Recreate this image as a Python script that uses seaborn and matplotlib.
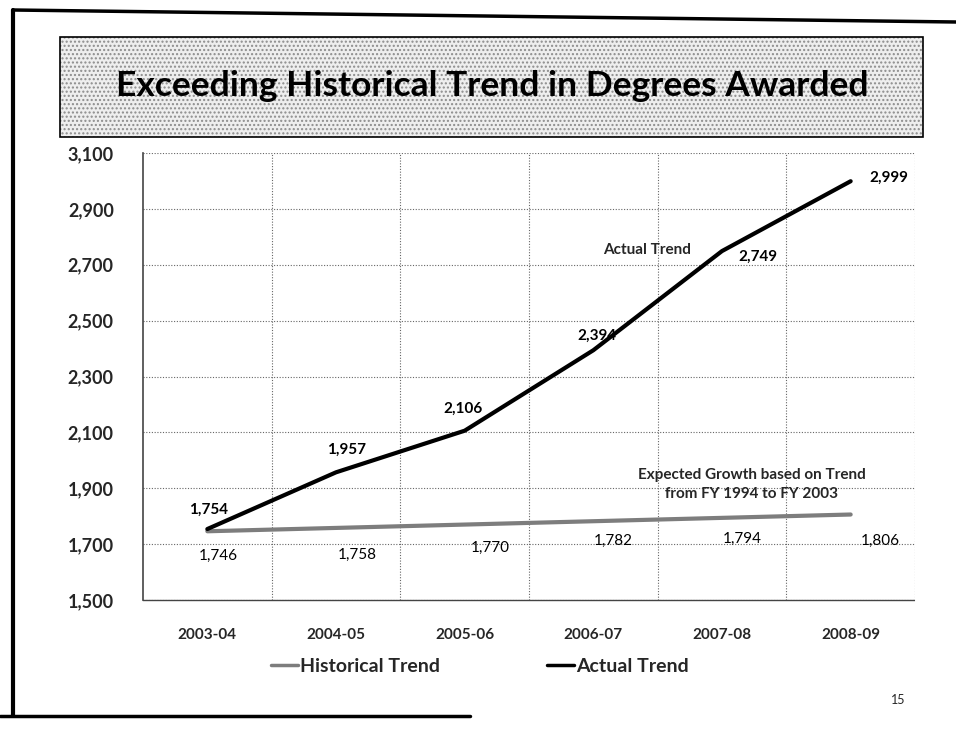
import matplotlib
matplotlib.use("Agg")
import matplotlib.pyplot as plt
import seaborn as sns
import pandas as pd
import numpy as np
from matplotlib.patches import Rectangle
from matplotlib.lines import Line2D

years = ["2003-04", "2004-05", "2005-06", "2006-07", "2007-08", "2008-09"]
historical = [1746, 1758, 1770, 1782, 1794, 1806]
actual = [1754, 1957, 2106, 2394, 2749, 2999]
yticks = [1500, 1700, 1900, 2100, 2300, 2500, 2700, 2900, 3100]

sns.set_theme(style="white")
plt.rcParams['font.family'] = ['Lato', 'DejaVu Sans']

W, H = 956, 731
fig = plt.figure(figsize=(W / 100, H / 100), dpi=100)
fig.patch.set_facecolor("white")

def fx(x):
    return x / W

def fy(y):
    return 1 - y / H

# slide frame
fig.add_artist(Line2D([fx(13), fx(13)], [fy(10), fy(716)], color="black", lw=3))
fig.add_artist(Line2D([fx(13), fx(956)], [fy(10), fy(22)], color="black", lw=2.5))
fig.add_artist(Line2D([fx(0), fx(470)], [fy(716), fy(716)], color="black", lw=2.5))

# title box (stippled fill + black border)
bx, by, bw, bh = fx(60), fy(137), fx(923) - fx(60), fy(37) - fy(137)
fig.add_artist(Rectangle((bx, by), bw, bh, transform=fig.transFigure,
                         facecolor="#eeeeee", edgecolor="#8c8c8c", lw=0,
                         hatch="...."))
fig.add_artist(Rectangle((bx, by), bw, bh, transform=fig.transFigure,
                         facecolor="none", edgecolor="black", lw=1.2))
fig.text(fx(492), fy(86), "Exceeding Historical Trend in Degrees Awarded",
         ha="center", va="center", fontsize=25.5, fontweight="bold", color="black")

# plot axes
x0, x1, yt, yb = 143, 915, 153, 600
ax = fig.add_axes([fx(x0), fy(yb), fx(x1) - fx(x0), fy(yt) - fy(yb)])

df = pd.DataFrame({"year": years * 2,
                   "value": historical + actual,
                   "series": ["Historical Trend"] * 6 + ["Actual Trend"] * 6})
df["pos"] = list(range(6)) * 2

sns.lineplot(data=df, x="pos", y="value", hue="series",
             palette={"Historical Trend": "#7d7d7d", "Actual Trend": "black"},
             linewidth=3.0, ax=ax, legend=False)

ax.set_xlim(-0.5, 5.5)
ax.set_ylim(1500, 3100)
ax.set_yticks(yticks)
ax.set_yticklabels([f"{v:,}" for v in yticks], fontsize=13, fontweight="bold")
ax.set_xticks(range(6))
ax.set_xticklabels(years, fontsize=11, fontweight="bold")
ax.set_xticks(np.arange(-0.5, 6, 1), minor=True)
ax.tick_params(axis="x", which="major", length=0, pad=20)
ax.tick_params(axis="x", which="minor", length=4, color="#555555", direction="out")
ax.tick_params(axis="y", length=4, pad=17, color="#555555", direction="out")
ax.set_xlabel("")
ax.set_ylabel("")

ax.grid(False)
for v in yticks:
    ax.axhline(v, color="#666666", lw=0.8, ls=(0, (1, 1.5)), zorder=0)
for xb in np.arange(0.5, 5.6, 1):
    ax.axvline(xb, color="#666666", lw=0.8, ls=(0, (1, 1.5)), zorder=0)
for s in ["top", "right"]:
    ax.spines[s].set_visible(False)
ax.spines["left"].set_color("#444444")
ax.spines["left"].set_linewidth(1.2)
ax.spines["bottom"].set_color("#444444")
ax.spines["bottom"].set_linewidth(1.0)
ax.spines["bottom"].set_linestyle((0, (1, 1)))

# data labels (offsets in points from each data point)
px2pt = 0.72
act_off = [(1, -19), (11, -23), (-2, -22), (4, -14), (36, 6), (38, -3)]
for i, v in enumerate(actual):
    dx, dy = act_off[i]
    ax.annotate(f"{v:,}", (i, v), xytext=(dx * px2pt, -dy * px2pt),
                textcoords="offset points", ha="center", va="center",
                fontsize=11, fontweight="bold", color="black")
hist_off = [(11, 25), (21, 27), (26, 23), (20, 20), (20, 21), (30, 26)]
for i, v in enumerate(historical):
    dx, dy = hist_off[i]
    ax.annotate(f"{v:,}", (i, v), xytext=(dx * px2pt, -dy * px2pt),
                textcoords="offset points", ha="center", va="center",
                fontsize=11, color="black")

ax.text(3.42, 2752, "Actual Trend", ha="center", va="center",
        fontsize=11, fontweight="bold")
ax.text(4.23, 1915, "Expected Growth based on Trend\nfrom FY 1994 to FY 2003",
        ha="center", va="center", fontsize=11, fontweight="bold", linespacing=1.45)

# legend
handles = [Line2D([], [], color="#7d7d7d", lw=2.5),
           Line2D([], [], color="black", lw=2.5)]
fig.legend(handles, ["Historical Trend", "Actual Trend"],
           loc="center", bbox_to_anchor=(fx(480), fy(666)), ncol=2,
           frameon=False, prop={"weight": "bold", "size": 14},
           handlelength=1.4, handletextpad=0.1, columnspacing=5.5)

fig.text(fx(898), fy(700), "15", ha="center", va="center", fontsize=9)

fig.savefig("out.png", dpi=100)
